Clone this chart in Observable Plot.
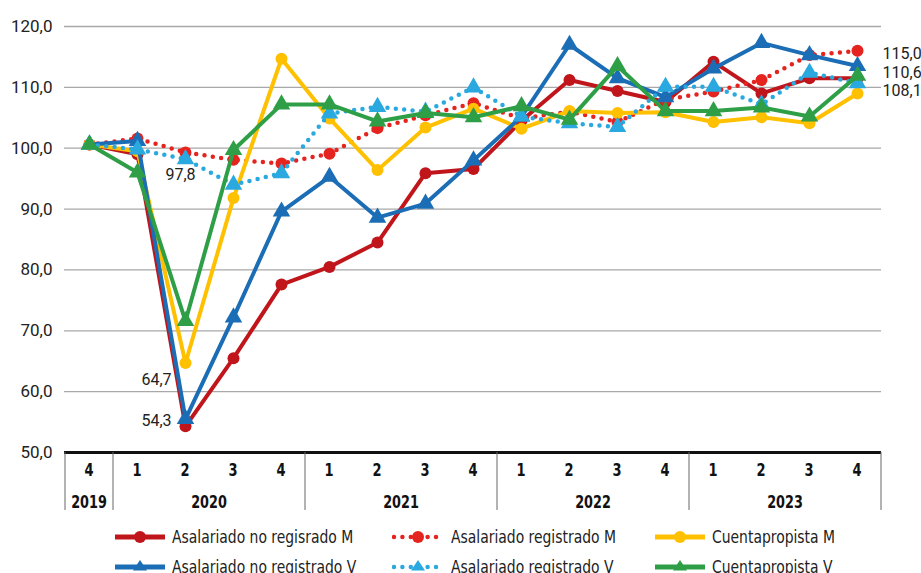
<!DOCTYPE html>
<html><head><meta charset="utf-8">
<script src="https://cdn.jsdelivr.net/npm/d3@7"></script>
<script src="https://cdn.jsdelivr.net/npm/@observablehq/plot@0.6"></script>
<style>
body{margin:0;background:#fff;font-family:Roboto,sans-serif;}
#wrap{position:relative;width:921px;height:573px;overflow:hidden;background:#fff;}
#legend{position:absolute;left:0;top:515px;width:921px;height:58px;}
.item{position:absolute;display:flex;align-items:center;height:20px;font-family:"Liberation Sans Narrow","DejaVu Sans Condensed",Roboto,sans-serif;font-size:17px;color:#222;white-space:nowrap;}
.item svg{display:block;margin-right:7px;}
.item span{display:inline-block;transform:scaleX(0.91);transform-origin:0 50%;}
</style></head><body>
<div id="wrap"><div id="chart"></div><div id="legend"></div></div>
<script>
// ---- data ----
const quarters = ["2019-4","2020-1","2020-2","2020-3","2020-4","2021-1","2021-2","2021-3","2021-4","2022-1","2022-2","2022-3","2022-4","2023-1","2023-2","2023-3","2023-4"];
const quarterLabels = ["4","1","2","3","4","1","2","3","4","1","2","3","4","1","2","3","4"];
const quarterYears = ["2019","2020","2020","2020","2020","2021","2021","2021","2021","2022","2022","2022","2022","2023","2023","2023","2023"];
const years = ["2019","2020","2021","2022","2023"];
const yTicks = [50,60,70,80,90,100,110,120];

const seriesNames = ["Asalariado no regisrado M","Asalariado registrado M","Cuentapropista M","Asalariado no registrado V","Asalariado registrado V","Cuentapropista V"];
const noRegM  = [100.6, 99.0, 54.3, 65.5, 77.6, 80.5, 84.5, 95.9, 96.6, 104.5, 111.2, 109.4, 107.6, 114.2, 109.0, 111.5, 111.5];
const regM    = [100.6, 101.6, 99.3, 98.1, 97.5, 99.1, 103.3, 105.4, 107.4, 104.9, 106.0, 104.3, 108.0, 109.3, 111.2, 115.3, 116.0];
const cuentaM = [100.6, 99.5, 64.7, 91.8, 114.7, 104.9, 96.4, 103.4, 106.5, 103.2, 106.1, 105.8, 105.9, 104.3, 105.1, 104.1, 109.0];
const noRegV  = [100.6, 101.2, 55.5, 72.2, 89.6, 95.3, 88.6, 90.9, 98.0, 105.2, 117.0, 111.5, 108.4, 113.1, 117.3, 115.3, 113.5];
const regV    = [100.6, 99.8, 98.2, 94.0, 95.9, 105.7, 106.8, 106.0, 110.0, 105.2, 104.1, 103.5, 110.1, 110.1, 107.2, 112.4, 110.7];
const cuentaV = [100.6, 96.0, 71.6, 99.7, 107.2, 107.2, 104.4, 105.8, 105.1, 106.9, 104.7, 113.5, 106.1, 106.1, 106.7, 105.2, 111.9];

// data labels (text as shown)
const labelMid = [
  {q:"2020-2", value:98.2, text:"97,8"},
  {q:"2020-2", value:64.7, text:"64,7"},
  {q:"2020-2", value:54.3, text:"54,3"}
];
const labelEnd = [
  {q:"2023-4", value:116.0, text:"115,0"},
  {q:"2023-4", value:110.7, text:"110,6"},
  {q:"2023-4", value:109.0, text:"108,1"}
];

// ---- styles ----
const styles = [
  {values:noRegM,  color:"#c0161b", dotted:false, symbol:"circle"},
  {values:regM,    color:"#e5231f", dotted:true,  symbol:"circle"},
  {values:cuentaM, color:"#ffc000", dotted:false, symbol:"circle"},
  {values:noRegV,  color:"#1b6db5", dotted:false, symbol:"triangle"},
  {values:regV,    color:"#2aa8e0", dotted:true,  symbol:"triangle"},
  {values:cuentaV, color:"#2e9f46", dotted:false, symbol:"triangle"}
];

const fmt = d => d.toFixed(1).replace(".", ",");

const seriesMarks = styles.flatMap((s, k) => {
  const rows = s.values.map((v, i) => ({q: quarters[i], v, name: seriesNames[k]}));
  const line = Plot.line(rows, {
    x: "q", y: "v", stroke: s.color,
    strokeWidth: s.dotted ? 4.5 : 4,
    strokeDasharray: s.dotted ? "0 8.4" : null,
    strokeLinecap: "round", strokeLinejoin: "round"
  });
  const dots = Plot.dot(rows, {
    x: "q", y: "v", fill: s.color, stroke: "none",
    symbol: s.symbol, r: s.symbol === "triangle" ? 6.5 : 6
  });
  return [line, dots];
});

const chart = Plot.plot({
  width: 921, height: 515,
  marginLeft: 64, marginRight: 40, marginTop: 26, marginBottom: 63,
  x: {type: "point", domain: quarters, padding: 0.5, axis: null},
  y: {domain: [50, 120]},
  style: {fontFamily: "Roboto, sans-serif", fontSize: "17px", color: "#222", background: "white", overflow: "visible"},
  marks: [
    Plot.ruleY(yTicks.filter(d => d > 50), {stroke: "#a8a8a8", strokeWidth: 1.3}),
    Plot.axisY({ticks: yTicks, tickSize: 0, tickPadding: 12, tickFormat: fmt, label: null, fontSize: 17}),
    ...seriesMarks,
    Plot.ruleY([50], {stroke: "#111", strokeWidth: 3}),
    Plot.text(labelMid.slice(0,1), {x: "q", y: "value", text: "text", dx: -5, dy: 16, fontSize: 16, fill: "#222"}),
    Plot.text(labelMid.slice(1,2), {x: "q", y: "value", text: "text", dx: -29, dy: 17, fontSize: 16, fill: "#222"}),
    Plot.text(labelMid.slice(2,3), {x: "q", y: "value", text: "text", dx: -29, dy: -5, fontSize: 16, fill: "#222"}),
    Plot.text(labelEnd.slice(0,1), {x: "q", y: "value", text: "text", dx: 25, dy: 3, textAnchor: "start", fontSize: 16, fill: "#222"}),
    Plot.text(labelEnd.slice(1,2), {x: "q", y: "value", text: "text", dx: 25, dy: -10, textAnchor: "start", fontSize: 16, fill: "#222"}),
    Plot.text(labelEnd.slice(2,3), {x: "q", y: "value", text: "text", dx: 25, dy: -3, textAnchor: "start", fontSize: 16, fill: "#222"})
  ]
});
document.getElementById("chart").appendChild(chart);

// ---- category table under the axis, positioned by the plot's own scales ----
const xs = chart.scale("x"), ys = chart.scale("y");
const step = xs.apply(quarters[1]) - xs.apply(quarters[0]);
const top0 = ys.apply(50);
const svg = d3.select(chart);
const g = svg.append("g");
const tableFont = '"Liberation Sans Narrow","DejaVu Sans Condensed",Roboto,sans-serif';
const seps = [xs.apply(quarters[0]) - step/2];
quarters.forEach((q, i) => {
  if (i > 0 && quarterYears[i] !== quarterYears[i-1]) seps.push((xs.apply(quarters[i-1]) + xs.apply(q)) / 2);
});
seps.push(xs.apply(quarters[quarters.length-1]) + step/2);
g.selectAll("line.sep").data(seps).join("line")
  .attr("x1", d => d).attr("x2", d => d)
  .attr("y1", top0).attr("y2", top0 + 58)
  .attr("stroke", "#666").attr("stroke-width", 1);
g.selectAll("text.q").data(quarters).join("text")
  .attr("transform", q => `translate(${xs.apply(q)},${top0 + 24}) scale(0.85,1)`)
  .attr("text-anchor", "middle").attr("font-family", tableFont)
  .attr("font-weight", "bold").attr("font-size", 17).attr("fill", "#111")
  .text((q, i) => quarterLabels[i]);
g.selectAll("text.y").data(years).join("text")
  .attr("transform", y => {
    const idx = quarters.map((q, i) => i).filter(i => quarterYears[i] === y);
    const cx = (xs.apply(quarters[idx[0]]) + xs.apply(quarters[idx[idx.length-1]])) / 2;
    return `translate(${cx},${top0 + 56}) scale(0.84,1)`;
  })
  .attr("text-anchor", "middle").attr("font-family", tableFont)
  .attr("font-weight", "bold").attr("font-size", 17).attr("fill", "#111")
  .text(y => y);

// ---- legend ----
const legendPos = [
  {left: 115, top: 12}, {left: 392, top: 12}, {left: 655, top: 12},
  {left: 115, top: 42}, {left: 392, top: 42}, {left: 655, top: 42}
];
const legend = document.getElementById("legend");
styles.forEach((s, k) => {
  const div = document.createElement("div");
  div.className = "item";
  div.style.left = legendPos[k].left + "px";
  div.style.top = legendPos[k].top + "px";
  const w = s.dotted ? 52 : 50;
  const marker = s.symbol === "circle"
    ? `<circle cx="${w/2}" cy="10" r="6" fill="${s.color}"/>`
    : `<path d="M${w/2},3 L${w/2+7},13.5 L${w/2-7},13.5 Z" fill="${s.color}"/>`;
  const line = s.dotted
    ? `<line x1="2" x2="${w-2}" y1="10" y2="10" stroke="${s.color}" stroke-width="4.5" stroke-dasharray="0 8.4" stroke-linecap="round"/>`
    : `<line x1="0" x2="${w}" y1="10" y2="10" stroke="${s.color}" stroke-width="5"/>`;
  div.innerHTML = `<svg width="${w}" height="20">${line}${marker}</svg><span>${seriesNames[k]}</span>`;
  legend.appendChild(div);
});
</script>
</body></html>
